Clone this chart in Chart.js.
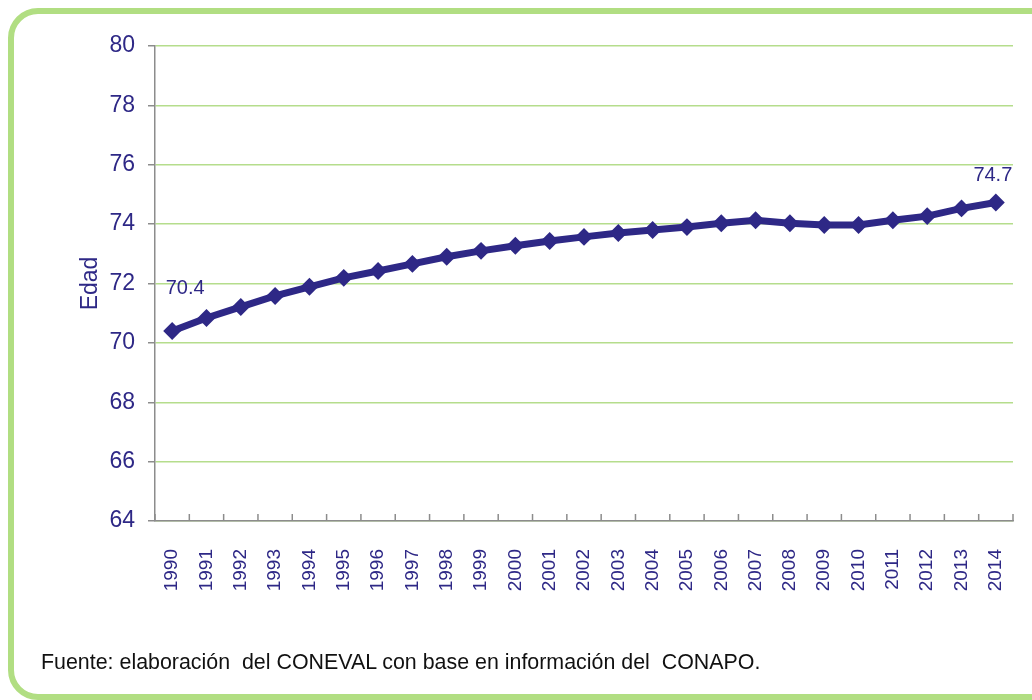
<!DOCTYPE html>
<html>
<head>
<meta charset="utf-8">
<script src="https://cdn.jsdelivr.net/npm/chart.js@4.4.1/dist/chart.umd.min.js"></script>
<style>
  html, body { margin: 0; padding: 0; background: #fff; }
  body { width: 1032px; height: 700px; position: relative; overflow: hidden; font-family: "Liberation Sans", Arial, sans-serif; }
  #frame { position: absolute; left: 8px; top: 8px; width: 1040px; height: 680px; border: 6px solid #b1de82; border-radius: 30px; }
  #wrap { position: absolute; left: 0; top: 0; width: 1032px; height: 700px; }
  #note { position: absolute; left: 41px; top: 650px; font-size: 21.4px; color: #111; white-space: pre; }
</style>
</head>
<body>
<div id="frame"></div>
<div id="wrap"><canvas id="lineChart"></canvas></div>
<div id="note">Fuente: elaboración  del CONEVAL con base en información del  CONAPO.</div>
<script>
const years = ['1990','1991','1992','1993','1994','1995','1996','1997','1998','1999','2000','2001','2002',
               '2003','2004','2005','2006','2007','2008','2009','2010','2011','2012','2013','2014'];
const edad = [70.4, 70.84, 71.21, 71.58, 71.89, 72.19, 72.42, 72.66, 72.9, 73.1, 73.27, 73.43, 73.57,
              73.7, 73.8, 73.9, 74.03, 74.13, 74.03, 73.97, 73.97, 74.13, 74.27, 74.53, 74.73];
const yTicks = [64, 66, 68, 70, 72, 74, 76, 78, 80];
const shownLabels = { 0: '70.4', 24: '74.7' };

const navy = '#2e2886';

// small tick marks pointing up from the x axis, between categories
const innerTicks = {
  id: 'innerTicks',
  afterDraw(chart) {
    const x = chart.scales.x, ctx = chart.ctx;
    const bottom = chart.chartArea.bottom;
    ctx.save();
    ctx.strokeStyle = '#8c8c8c';
    ctx.lineWidth = 1.5;
    for (let i = 0; i <= years.length; i++) {
      const px = (x.getPixelForValue(i - 0.5));
      ctx.beginPath();
      ctx.moveTo(px, bottom);
      ctx.lineTo(px, bottom - 7);
      ctx.stroke();
    }
    ctx.restore();
  }
};

const pointLabels = {
  id: 'pointLabels',
  afterDatasetsDraw(chart) {
    const meta = chart.getDatasetMeta(0), ctx = chart.ctx;
    ctx.save();
    ctx.fillStyle = navy;
    ctx.font = '20px "Liberation Sans", Arial, sans-serif';
    ctx.textAlign = 'center';
    ctx.textBaseline = 'middle';
    const offs = { 0: [13, -43], 24: [-3, -27] };
    Object.keys(shownLabels).forEach(k => {
      const p = meta.data[k];
      ctx.fillText(shownLabels[k], p.x + offs[k][0], p.y + offs[k][1]);
    });
    ctx.restore();
  }
};

const ctx = document.getElementById('lineChart').getContext('2d');
new Chart(ctx, {
  type: 'line',
  data: {
    labels: years,
    datasets: [{
      label: 'Edad',
      data: edad,
      borderColor: navy,
      backgroundColor: navy,
      borderWidth: 7,
      pointStyle: 'rectRot',
      pointRadius: 4,
      tension: 0
    }]
  },
  options: {
    responsive: true,
    maintainAspectRatio: false,
    animation: false,
    layout: { padding: { left: 0, top: 46, right: 19, bottom: 0 } },
    plugins: {
      legend: { display: false },
      tooltip: { enabled: false }
    },
    scales: {
      x: {
        offset: true,
        afterFit: s => { s.height = 179; s.paddingLeft = 0; s.paddingRight = 0; },
        grid: { display: false },
        border: { color: '#8c8c8c', width: 1.5 },
        ticks: {
          color: navy,
          font: { family: '"Liberation Sans", Arial, sans-serif', size: 19 },
          minRotation: 90,
          maxRotation: 90,
          autoSkip: false,
          padding: 20
        }
      },
      y: {
        min: 64,
        max: 80,
        afterFit: s => { s.width = 155; s.paddingTop = 0; s.paddingBottom = 0; },
        afterBuildTicks: s => { s.ticks = yTicks.map(v => ({ value: v })); },
        grid: { color: '#b5dd8c', lineWidth: 1.5, tickColor: '#8c8c8c', tickLength: 7 },
        border: { color: '#8c8c8c', width: 1.5 },
        ticks: {
          color: navy,
          font: { family: '"Liberation Sans", Arial, sans-serif', size: 23 },
          padding: 13
        },
        title: {
          display: true,
          text: 'Edad',
          color: navy,
          font: { family: '"Liberation Sans", Arial, sans-serif', size: 23 },
          padding: { top: 77 }
        }
      }
    }
  },
  plugins: [innerTicks, pointLabels]
});
</script>
</body>
</html>
